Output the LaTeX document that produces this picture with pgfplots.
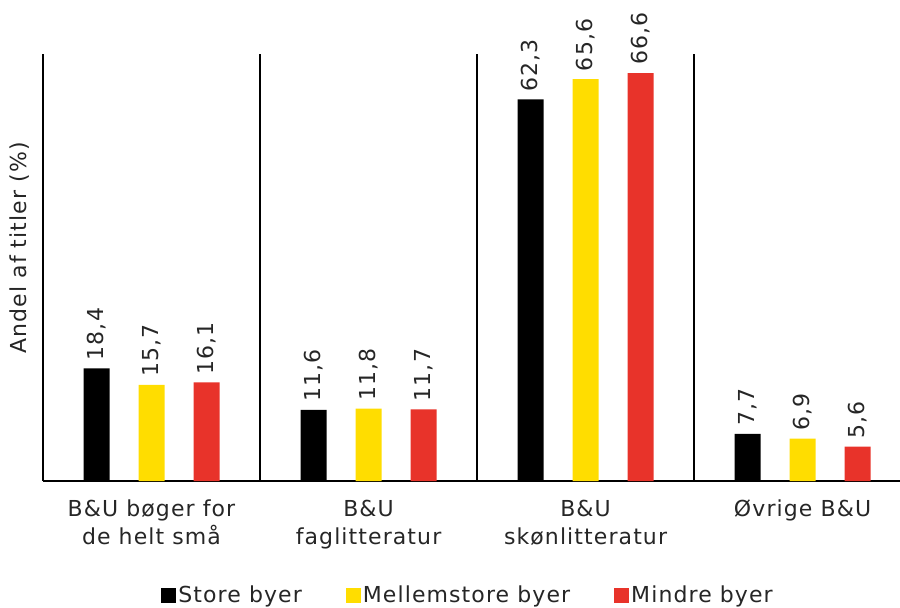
\documentclass[border=0pt]{standalone}
\usepackage{fontspec}
\setmainfont{DejaVu Sans}[LetterSpace=5]
\usepackage{pgfplots}
\pgfplotsset{compat=1.18}
\definecolor{baryellow}{HTML}{FFDD00}
\definecolor{barred}{HTML}{E8332A}
\definecolor{txt}{HTML}{262626}

\begin{document}
\begin{tikzpicture}[font=\fontsize{11}{14}\selectfont]
\useasboundingbox (0,0) rectangle (450pt,303.5pt);
\begin{axis}[
    at={(21.5pt,63pt)}, anchor=south west,
    scale only axis, width=428.5pt, height=213.5pt,
    xmin=-0.5, xmax=3.449, ymin=0, ymax=69.7,
    clip=false,
    axis x line=bottom, axis y line=left,
    axis line style={-, line width=0.6pt},
    ytick=\empty,
    xtick={0,1,2,3},
    xticklabels={B\&U bøger for\\de helt små, B\&U\\faglitteratur, B\&U\\skønlitteratur, Øvrige B\&U},
    major tick length=0pt,
    xticklabel style={align=center, text=txt, yshift=-6pt, anchor=north},
    extra x ticks={0.5,1.5,2.5},
    extra x tick labels={},
    extra x tick style={grid=major, major grid style={black, line width=0.6pt}},
    ylabel={Andel af titler (\%)},
    ylabel style={at={(axis description cs:-0.027,0.546)}, anchor=center, text=txt},
    ybar, bar width=13pt,
    nodes near coords,
    nodes near coords style={rotate=90, anchor=west, text=txt, xshift=0.5pt},
    /pgf/number format/fixed,
    /pgf/number format/fixed zerofill,
    /pgf/number format/precision=1,
    /pgf/number format/use comma,
    /pgf/number format/assume math mode=true,
    legend columns=-1,
    legend style={at={(axis description cs:0.496,-0.269)}, anchor=center,
        draw=none, text=txt, nodes={inner xsep=1pt},
        /tikz/every even column/.append style={column sep=21pt}},
    legend image code/.code={\fill[#1] (0pt,-3.75pt) rectangle (7.5pt,3.75pt);},
]
\addplot[fill=black, draw=none, bar shift=-27.5pt] coordinates {(0,18.4) (1,11.6) (2,62.3) (3,7.7)};
\addplot[fill=baryellow, draw=none, bar shift=0pt] coordinates {(0,15.7) (1,11.8) (2,65.6) (3,6.9)};
\addplot[fill=barred, draw=none, bar shift=27.5pt] coordinates {(0,16.1) (1,11.7) (2,66.6) (3,5.6)};
\legend{Store byer, Mellemstore byer, Mindre byer}
\end{axis}
\end{tikzpicture}
\end{document}
